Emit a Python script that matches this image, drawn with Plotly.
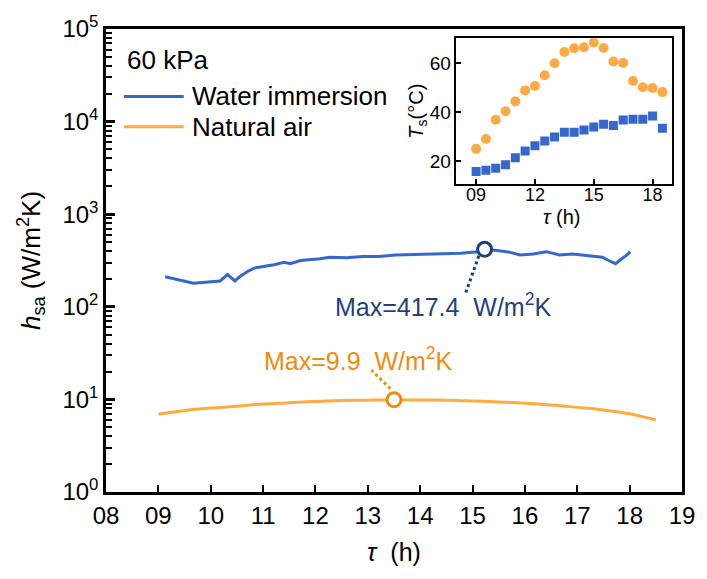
import math
import plotly.graph_objects as go

# ---- main panel data: surface-to-air heat transfer coefficient ----
tau_water = [9.13, 9.67, 10.18, 10.32, 10.39, 10.46, 10.55, 10.71, 10.83, 11.02,
             11.21, 11.40, 11.52, 11.71, 11.90, 12.09, 12.27, 12.59, 12.90, 13.21,
             13.53, 13.84, 14.16, 14.47, 14.78, 15.10, 15.23, 15.47, 15.72, 15.91,
             16.16, 16.41, 16.66, 16.91, 17.23, 17.48, 17.60, 17.73, 17.85, 17.95, 18.01]
h_water = [211, 180, 190, 223, 206, 190, 211, 242, 262, 273,
           285, 303, 292, 316, 322, 330, 343, 338, 349, 349,
           363, 366, 369, 372, 378, 394, 417.4, 406, 387, 363,
           372, 394, 363, 372, 357, 343, 316, 292, 330, 363, 394]

tau_air = [9.0, 9.5, 10.0, 10.5, 11.0, 11.5, 12.0, 12.5, 13.0, 13.5,
           14.0, 14.5, 15.0, 15.5, 16.0, 16.5, 17.0, 17.5, 18.0, 18.5]
h_air = [6.9, 7.6, 8.05, 8.45, 8.9, 9.2, 9.5, 9.7, 9.82, 9.9,
         9.85, 9.78, 9.62, 9.4, 9.1, 8.7, 8.2, 7.7, 7.0, 6.0]

x_ticks = list(range(8, 20))
x_ticklabels = [f"{v:02d}" for v in x_ticks]
y_decades = [0, 1, 2, 3, 4, 5]

# ---- inset data: surface temperature ----
tau_ts = [9.0, 9.5, 10.0, 10.5, 11.0, 11.5, 12.0, 12.5, 13.0, 13.5,
          14.0, 14.5, 15.0, 15.5, 16.0, 16.5, 17.0, 17.5, 18.0, 18.5]
ts_air = [25.0, 29.0, 36.9, 40.4, 44.4, 48.9, 50.7, 55.1, 60.0, 64.6,
          66.1, 66.5, 68.5, 66.2, 60.7, 60.1, 52.7, 50.2, 49.9, 48.2]
ts_water = [15.7, 16.3, 17.1, 18.5, 21.4, 24.1, 26.3, 28.2, 29.9, 31.8,
            31.8, 32.7, 33.9, 35.1, 34.6, 36.8, 37.1, 37.1, 38.4, 33.4]
inset_ticks = [9, 12, 15, 18]

FONT = "Liberation Sans, Arial, sans-serif"
BLUE = "#3567cf"
ORANGE = "#ffab40"
BLUE_DARK = "#1f3f7d"
ORANGE_DARK = "#ef8c0c"

fig = go.Figure()

fig.add_trace(go.Scatter(x=tau_water, y=h_water, mode="lines",
                         line=dict(color=BLUE, width=3), showlegend=False))
fig.add_trace(go.Scatter(x=tau_air, y=h_air, mode="lines",
                         line=dict(color=ORANGE, width=3, shape="spline"),
                         showlegend=False))


def mark_max(xs, ys, color, lead, text_off):
    i = max(range(len(ys)), key=lambda k: ys[k])
    tx, ty = xs[i], ys[i]
    ly = math.log10(ty)
    # dotted leader from the maximum towards its label
    fig.add_trace(go.Scatter(
        x=[tx + lead[0], tx + lead[2]],
        y=[10 ** (ly + lead[1]), 10 ** (ly + lead[3])],
        mode="lines", line=dict(color=color, width=3, dash="dot"),
        showlegend=False, hoverinfo="skip"))
    fig.add_trace(go.Scatter(
        x=[tx], y=[ty], mode="markers",
        marker=dict(symbol="circle", size=14, color="white",
                    line=dict(color=color, width=3)),
        showlegend=False))
    fig.add_annotation(x=tx + text_off[0], y=ly + text_off[1], xref="x", yref="y",
                       text=f"Max={ty:g}  W/m<sup>2</sup>K", showarrow=False,
                       font=dict(size=25, color=color, family=FONT))


mark_max(tau_water, h_water, BLUE_DARK, (-0.11, -0.07, -0.36, -0.47), (-0.8, -0.6))
mark_max(tau_air, h_air, ORANGE_DARK, (-0.07, 0.12, -0.43, 0.32), (-0.68, 0.44))

# inset
fig.add_trace(go.Scatter(x=tau_ts, y=ts_air, mode="markers", xaxis="x2", yaxis="y2",
                         marker=dict(symbol="circle", size=10, color="#fdaa45"),
                         showlegend=False))
fig.add_trace(go.Scatter(x=tau_ts, y=ts_water, mode="markers", xaxis="x2", yaxis="y2",
                         marker=dict(symbol="square", size=9, color=BLUE),
                         showlegend=False))

# legend drawn as short line samples with labels
legend_rows = [("Water immersion", BLUE, 0.8544), ("Natural air", ORANGE, 0.789)]
for label, color, yp in legend_rows:
    fig.add_shape(type="line", xref="paper", yref="paper", x0=0.031, x1=0.135,
                  y0=yp, y1=yp, line=dict(color=color, width=3))
    fig.add_annotation(xref="paper", yref="paper", x=0.145, y=yp, text=label,
                       showarrow=False, xanchor="left", yanchor="middle",
                       font=dict(size=26, color="black", family=FONT))
fig.add_annotation(xref="paper", yref="paper", x=0.033, y=0.9325, text="60 kPa",
                   showarrow=False, xanchor="left", yanchor="middle",
                   font=dict(size=26, color="black", family=FONT))

# inset axis caption for time
fig.add_annotation(xref="paper", yref="paper", x=0.79, y=0.593, text="<i>τ</i> (h)",
                   showarrow=False, xanchor="center", yanchor="middle",
                   font=dict(size=20, color="black", family=FONT))

minor_vals = [k * 10 ** n for n in range(0, 5) for k in range(2, 10)]

fig.update_layout(
    width=707, height=579,
    margin=dict(l=106, r=16, t=18, b=87),
    paper_bgcolor="white", plot_bgcolor="white",
    font=dict(family=FONT, color="black"),
    xaxis=dict(
        range=[8, 19], tickmode="array", tickvals=x_ticks, ticktext=x_ticklabels,
        ticks="inside", ticklen=7, tickwidth=2, tickcolor="black",
        showline=True, linewidth=2.5, linecolor="black", mirror=True,
        showgrid=False, zeroline=False,
        tickfont=dict(size=24, family=FONT),
        title=dict(text="<i>τ</i>  (h)", font=dict(size=25, family=FONT), standoff=16),
    ),
    yaxis=dict(
        type="log", range=[0, 5], tickmode="array",
        tickvals=[10 ** d for d in y_decades],
        ticktext=[f"10<sup>{d}</sup>" for d in y_decades],
        ticks="inside", ticklen=9, tickwidth=2.5, tickcolor="black",
        minor=dict(tickmode="array", tickvals=minor_vals, ticks="inside",
                   ticklen=6, tickwidth=1.5, tickcolor="black", showgrid=False),
        showline=True, linewidth=2.5, linecolor="black", mirror=True,
        showgrid=False, zeroline=False,
        tickfont=dict(size=24, family=FONT),
        title=dict(text="<i>h</i><sub>sa</sub> (W/m<sup>2</sup>K)",
                   font=dict(size=26, family=FONT), standoff=15),
    ),
    xaxis2=dict(
        domain=[0.6085, 0.983], anchor="y2", range=[8, 19],
        tickmode="array", tickvals=inset_ticks,
        ticktext=[f"{v:02d}" for v in inset_ticks],
        ticks="inside", ticklen=5, tickwidth=1.5, tickcolor="black",
        showline=True, linewidth=1.5, linecolor="black", mirror=True,
        showgrid=False, zeroline=False, ticklabelstandoff=-6,
        tickfont=dict(size=18, family=FONT),
    ),
    yaxis2=dict(
        domain=[0.665, 0.980], anchor="x2", range=[10.6, 70.2],
        tickmode="array", tickvals=[20, 40, 60],
        ticks="inside", ticklen=5, tickwidth=1.5, tickcolor="black",
        showline=True, linewidth=1.5, linecolor="black", mirror=True,
        showgrid=False, zeroline=False,
        tickfont=dict(size=19, family=FONT),
        title=dict(text="<i>T</i><sub>s</sub>(°C)", font=dict(size=20, family=FONT),
                   standoff=0),
    ),
)

fig.write_html("out.html")
